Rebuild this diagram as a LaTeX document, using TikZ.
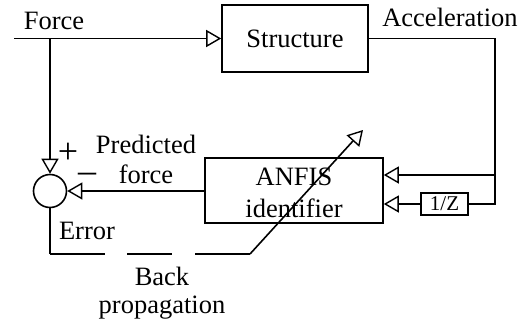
\documentclass[tikz,border=0pt]{standalone}
\usepackage{fontspec}
\setmainfont{Liberation Serif}
\usetikzlibrary{arrows.meta}
\begin{document}
\begin{tikzpicture}[x=1pt,y=-1pt, line width=1.6pt,
  txt/.style={font=\fontsize{26.5}{30}\selectfont, inner sep=0pt},
  blk/.style={draw, inner sep=0pt, font=\fontsize{26.5}{30}\selectfont},
  sgn/.style={font=\fontsize{36}{38}\selectfont, inner sep=0pt, anchor=base, text depth=0pt},
  oarr/.style={-{Triangle[open,length=15pt,width=17pt,line width=1.4pt]}}]
\useasboundingbox (0,0) rectangle (526,321);
% blocks
\node[blk, minimum width=146pt, minimum height=67pt] (str) at (295,38.5) {Structure};
\node[blk, minimum width=178pt, minimum height=65pt] (anfis) at (294,190.5) {};
\node[txt, anchor=base] (anfisA) at (294,185) {ANFIS};
\node[txt, anchor=base] (anfisB) at (294,217) {identifier};
\node[blk, minimum width=47pt, minimum height=22pt, font=\fontsize{21}{23}\selectfont] (z) at (444.5,204) {1/Z};
\node[circle, draw, minimum size=33pt, inner sep=0pt] (sum) at (50,191) {};
% coordinates
\coordinate (fin) at (14,38.5);
\coordinate (fj) at (50,38.5);
\coordinate (ar) at (495,38.5);
\coordinate (am) at (495,175);
\coordinate (br) at (495,204);
\coordinate (er) at (50,254);
\coordinate (ec) at (250,254);
\coordinate (tip) at (363,130);
% connectors
\draw[oarr] (fin) -- (str.west);
\draw[oarr] (fj) -- (sum.north);
\draw (str.east) -- (ar) -- (br) -- (z.east);
\draw[oarr] (am) -- (anfis.east |- am);
\draw[oarr] (z.west) -- (anfis.east |- z.west);
\draw[oarr] (anfis.west |- sum.east) -- (sum.east);
\draw (sum.south) -- (er);
\draw[dash pattern=on 55pt off 22pt on 45pt off 23pt on 60pt off 0pt] (er) -- (ec);
\draw[oarr] (ec) -- (tip);
% labels
\node[txt, anchor=base] (lforce) at (54,30) {Force};
\node[txt, anchor=base] (lacc) at (450,27) {Acceleration};
\node[txt, anchor=base] (lpred) at (146,153) {Predicted};
\node[txt, anchor=base] (lpf) at (146,183) {force};
\node[txt, anchor=base] (lerr) at (87,239) {Error};
\node[txt, anchor=base] (lback) at (162,285) {Back};
\node[txt, anchor=base] (lprop) at (162,313) {propagation};
\node[sgn, text height=19pt] (plus) at (68,163) {+};
\node[sgn, text height=11pt] (minus) at (87,182) {\textendash};
\end{tikzpicture}
\end{document}
